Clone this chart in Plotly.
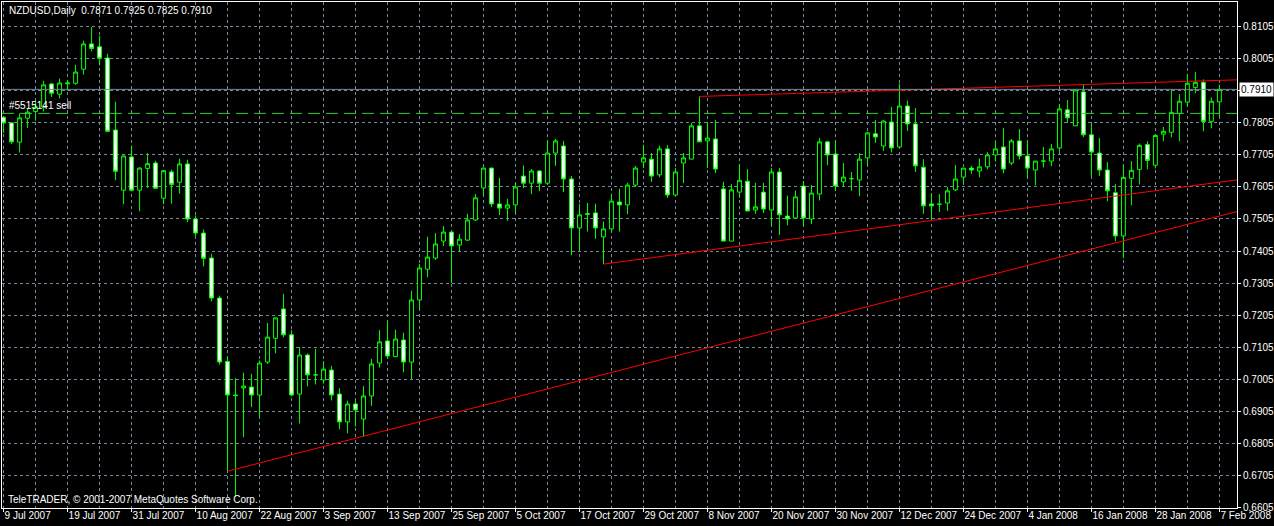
import pandas as pd
import plotly.graph_objects as go

# daily bars, 9 Jul 2007 - 7 Feb 2008 (no bar on 25 Dec)
dates = [d for d in pd.bdate_range('2007-07-09', '2008-02-07') if d != pd.Timestamp('2007-12-25')]

open_ = [0.7823, 0.7805, 0.7745, 0.7820, 0.7841, 0.7854, 0.7927, 0.7895, 0.7927, 0.7929,
         0.7973, 0.8052, 0.8043, 0.8008, 0.7783, 0.7595, 0.7699, 0.7595, 0.7663, 0.7680,
         0.7570, 0.7652, 0.7620, 0.7677, 0.7505, 0.7461, 0.7383, 0.7258, 0.7060, 0.6955,
         0.6977, 0.6980, 0.6955, 0.7058, 0.7132, 0.7224, 0.7143, 0.6958, 0.7080, 0.7018,
         0.7002, 0.7033, 0.6958, 0.6871, 0.6927, 0.6880, 0.6952, 0.7055, 0.7124, 0.7075,
         0.7127, 0.7058, 0.7252, 0.7348, 0.7383, 0.7436, 0.7464, 0.7424, 0.7439, 0.7502,
         0.7602, 0.7664, 0.7552, 0.7539, 0.7549, 0.7639, 0.7617, 0.7655, 0.7617, 0.7711,
         0.7733, 0.7630, 0.7477, 0.7522, 0.7524, 0.7449, 0.7474, 0.7558, 0.7549, 0.7611,
         0.7683, 0.7692, 0.7643, 0.7724, 0.7580, 0.7680, 0.7692, 0.7796, 0.7749, 0.7755,
         0.7599, 0.7436, 0.7589, 0.7623, 0.7533, 0.7589, 0.7533, 0.7652, 0.7514, 0.7508,
         0.7608, 0.7505, 0.7583, 0.7746, 0.7708, 0.7621, 0.7631, 0.7627, 0.7696, 0.7771,
         0.7733, 0.7808, 0.7730, 0.7858, 0.7802, 0.7667, 0.7552, 0.7551, 0.7555, 0.7596,
         0.7636, 0.7664, 0.7655, 0.7668, 0.7705, 0.7730, 0.7680, 0.7749, 0.7702, 0.7658,
         0.7686, 0.7686, 0.7727, 0.7846, 0.7796, 0.7902, 0.7768, 0.7711, 0.7658, 0.7587,
         0.7452, 0.7632, 0.7660, 0.7738, 0.7673, 0.7770, 0.7776, 0.7835, 0.7870, 0.7916,
         0.7932, 0.7810, 0.7871]
high = [0.7826, 0.7808, 0.7835, 0.7849, 0.7871, 0.7937, 0.7930, 0.7944, 0.7937, 0.7987,
        0.8062, 0.8105, 0.8077, 0.8021, 0.7871, 0.7704, 0.7734, 0.7667, 0.7711, 0.7687,
        0.7658, 0.7659, 0.7694, 0.7690, 0.7516, 0.7472, 0.7396, 0.7265, 0.7076, 0.7008,
        0.7025, 0.7021, 0.7063, 0.7180, 0.7196, 0.7271, 0.7158, 0.7105, 0.7085, 0.7099,
        0.7061, 0.7046, 0.6976, 0.6937, 0.6937, 0.6983, 0.7068, 0.7158, 0.7185, 0.7159,
        0.7150, 0.7281, 0.7364, 0.7450, 0.7461, 0.7483, 0.7466, 0.7458, 0.7521, 0.7583,
        0.7666, 0.7666, 0.7633, 0.7568, 0.7617, 0.7672, 0.7661, 0.7658, 0.7749, 0.7755,
        0.7749, 0.7639, 0.7552, 0.7555, 0.7553, 0.7497, 0.7584, 0.7600, 0.7618, 0.7671,
        0.7737, 0.7711, 0.7734, 0.7736, 0.7664, 0.7711, 0.7805, 0.7888, 0.7808, 0.7814,
        0.7621, 0.7614, 0.7677, 0.7661, 0.7618, 0.7618, 0.7664, 0.7664, 0.7578, 0.7594,
        0.7624, 0.7611, 0.7758, 0.7749, 0.7752, 0.7680, 0.7652, 0.7711, 0.7777, 0.7814,
        0.7814, 0.7855, 0.7928, 0.7875, 0.7852, 0.7692, 0.7586, 0.7583, 0.7605, 0.7674,
        0.7664, 0.7671, 0.7694, 0.7714, 0.7746, 0.7789, 0.7755, 0.7786, 0.7752, 0.7686,
        0.7730, 0.7739, 0.7864, 0.7877, 0.7911, 0.7927, 0.7804, 0.7758, 0.7683, 0.7614,
        0.7675, 0.7686, 0.7741, 0.7748, 0.7770, 0.7793, 0.7910, 0.7895, 0.7958, 0.7964,
        0.7941, 0.7885, 0.7925]
low = [0.7774, 0.7739, 0.7713, 0.7789, 0.7812, 0.7841, 0.7886, 0.7882, 0.7906, 0.7924,
       0.7956, 0.8029, 0.7985, 0.7777, 0.7626, 0.7551, 0.7591, 0.7529, 0.7602, 0.7599,
       0.7551, 0.7553, 0.7584, 0.7495, 0.7451, 0.7357, 0.7248, 0.7050, 0.6717, 0.6638,
       0.6823, 0.6917, 0.6885, 0.7052, 0.7085, 0.7135, 0.6951, 0.6866, 0.6982, 0.6988,
       0.6991, 0.6938, 0.6848, 0.6835, 0.6857, 0.6825, 0.6921, 0.7041, 0.7068, 0.7073,
       0.7026, 0.7005, 0.7222, 0.7323, 0.7377, 0.7420, 0.7305, 0.7402, 0.7436, 0.7499,
       0.7577, 0.7542, 0.7517, 0.7499, 0.7524, 0.7601, 0.7583, 0.7592, 0.7611, 0.7671,
       0.7589, 0.7392, 0.7408, 0.7466, 0.7443, 0.7364, 0.7464, 0.7466, 0.7520, 0.7605,
       0.7664, 0.7621, 0.7635, 0.7571, 0.7580, 0.7617, 0.7692, 0.7746, 0.7664, 0.7649,
       0.7436, 0.7436, 0.7571, 0.7530, 0.7521, 0.7524, 0.7483, 0.7455, 0.7485, 0.7505,
       0.7482, 0.7489, 0.7563, 0.7673, 0.7593, 0.7605, 0.7593, 0.7576, 0.7671, 0.7743,
       0.7718, 0.7713, 0.7727, 0.7780, 0.7652, 0.7521, 0.7505, 0.7527, 0.7530, 0.7592,
       0.7614, 0.7646, 0.7635, 0.7660, 0.7685, 0.7648, 0.7673, 0.7691, 0.7633, 0.7610,
       0.7666, 0.7670, 0.7714, 0.7805, 0.7796, 0.7761, 0.7639, 0.7639, 0.7561, 0.7435,
       0.7382, 0.7548, 0.7613, 0.7660, 0.7663, 0.7748, 0.7760, 0.7748, 0.7857, 0.7898,
       0.7779, 0.7788, 0.7825]
close = [0.7805, 0.7746, 0.7821, 0.7839, 0.7855, 0.7924, 0.7898, 0.7930, 0.7930, 0.7964,
         0.8052, 0.8038, 0.8007, 0.7779, 0.7654, 0.7702, 0.7595, 0.7664, 0.7678, 0.7601,
         0.7656, 0.7613, 0.7677, 0.7505, 0.7461, 0.7382, 0.7258, 0.7058, 0.6955, 0.6953,
         0.6983, 0.6955, 0.7055, 0.7136, 0.7196, 0.7143, 0.6955, 0.7080, 0.7018, 0.7018,
         0.7036, 0.6955, 0.6871, 0.6927, 0.6908, 0.6952, 0.7052, 0.7121, 0.7077, 0.7130,
         0.7058, 0.7252, 0.7352, 0.7386, 0.7427, 0.7464, 0.7421, 0.7442, 0.7502, 0.7571,
         0.7664, 0.7552, 0.7539, 0.7549, 0.7605, 0.7617, 0.7655, 0.7617, 0.7711, 0.7749,
         0.7630, 0.7477, 0.7518, 0.7520, 0.7477, 0.7474, 0.7561, 0.7549, 0.7611, 0.7664,
         0.7696, 0.7639, 0.7724, 0.7580, 0.7652, 0.7696, 0.7796, 0.7746, 0.7758, 0.7661,
         0.7436, 0.7596, 0.7626, 0.7530, 0.7543, 0.7536, 0.7652, 0.7518, 0.7505, 0.7574,
         0.7508, 0.7586, 0.7746, 0.7705, 0.7608, 0.7636, 0.7631, 0.7692, 0.7774, 0.7761,
         0.7811, 0.7727, 0.7858, 0.7802, 0.7671, 0.7546, 0.7546, 0.7551, 0.7593, 0.7630,
         0.7664, 0.7658, 0.7668, 0.7705, 0.7724, 0.7661, 0.7749, 0.7702, 0.7664, 0.7686,
         0.7686, 0.7724, 0.7849, 0.7821, 0.7908, 0.7768, 0.7714, 0.7658, 0.7593, 0.7452,
         0.7635, 0.7657, 0.7735, 0.7688, 0.7766, 0.7779, 0.7838, 0.7873, 0.7929, 0.7932,
         0.7810, 0.7873, 0.7910]

# trend line anchors: (bar number, price)
trend_a_bars = [87, 135]
trend_a_prices = [0.7888, 0.7925]
trend_b_bars = [75, 152]
trend_b_prices = [0.7364, 0.7620]
trend_c_bars = [28, 152]
trend_c_prices = [0.6717, 0.7514]

order_price = 0.7835
order_label = '#5515141 sell'

x = list(range(len(dates)))
labels = [f"{d.day} {d.strftime('%b %Y')}" for d in dates]
x_left, x_right = -0.2, 154.2
grid = '#778899'
green = '#00FF00'

fig = go.Figure()
fig.add_trace(go.Candlestick(
    x=x, open=open_, high=high, low=low, close=close,
    increasing=dict(line=dict(color=green, width=1), fillcolor='black'),
    decreasing=dict(line=dict(color=green, width=1), fillcolor='white'),
    whiskerwidth=0, hoverinfo='skip'))

# trend lines drawn as rays to the right edge
for bars, prices in [(trend_a_bars, trend_a_prices),
                     (trend_b_bars, trend_b_prices),
                     (trend_c_bars, trend_c_prices)]:
    slope = (prices[1] - prices[0]) / (bars[1] - bars[0])
    end = prices[0] + slope * (x_right - bars[0])
    fig.add_trace(go.Scatter(x=[bars[0], x_right], y=[prices[0], end], mode='lines',
                             line=dict(color='#FF0000', width=1), hoverinfo='skip'))

bid = close[-1]
fig.add_hline(y=bid, line=dict(color=grid, width=1))
fig.add_hline(y=order_price, line=dict(color='#32CD32', width=1, dash='12px,6px'))

fig.add_annotation(text=f"NZDUSD,Daily  {open_[-1]:.4f} {high[-1]:.4f} {low[-1]:.4f} {close[-1]:.4f}",
                   xref='paper', yref='paper', x=0.004, y=0.984, xanchor='left', yanchor='middle',
                   showarrow=False, font=dict(color='white', size=10))
fig.add_annotation(text=order_label, xref='paper', yref='y', x=0.004, y=order_price,
                   xanchor='left', yanchor='bottom', yshift=0, showarrow=False,
                   font=dict(color='white', size=10))
fig.add_annotation(text='TeleTRADER, © 2001-2007 MetaQuotes Software Corp.',
                   xref='paper', yref='paper', x=0.003, y=0.016, xanchor='left', yanchor='middle',
                   showarrow=False, font=dict(color='white', size=10))
fig.add_annotation(text=f"{bid:.4f}", xref='paper', yref='y', x=1, y=bid, xanchor='left',
                   xshift=2, showarrow=False, bgcolor='white', borderpad=1,
                   font=dict(color='black', size=10))

fig.update_layout(
    width=1274, height=526,
    margin=dict(l=2, r=37, t=2, b=18),
    paper_bgcolor='black', plot_bgcolor='black',
    showlegend=False,
    font=dict(family='Liberation Sans', size=10, color='white'),
    xaxis=dict(range=[x_left, x_right], rangeslider=dict(visible=False),
               tickmode='array', tickvals=x[::8], ticktext=labels[::8],
               ticks='outside', ticklen=3, tickcolor='white', tickangle=0,
               ticklabelposition='outside right', ticklabelstandoff=-2,
               showgrid=True, gridcolor=grid, griddash='3px,3px', gridwidth=1,
               minor=dict(tickmode='array', tickvals=x[::4], showgrid=True,
                          gridcolor=grid, griddash='3px,3px', ticks=''),
               showline=True, linecolor='white', linewidth=1, mirror=True,
               zeroline=False, automargin=False),
    yaxis=dict(side='right', range=[0.6602, 0.8183], tick0=0.6605, dtick=0.01,
               tickformat='.4f', ticks='outside', ticklen=3, tickcolor='white',
               showgrid=True, gridcolor=grid, griddash='3px,3px', gridwidth=1,
               showline=True, linecolor='white', linewidth=1, mirror=True,
               zeroline=False, automargin=False),
)

# page body margin would push the fixed-size chart off the window
fig.write_html("out.html", config={'displayModeBar': False},
               post_script="document.body.style.margin='0';")
